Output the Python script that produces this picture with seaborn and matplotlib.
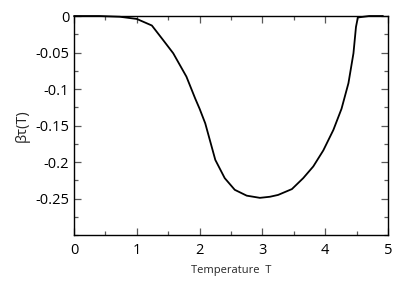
import numpy as np
import pandas as pd
import matplotlib
matplotlib.use("Agg")
import matplotlib.pyplot as plt
from matplotlib.ticker import MultipleLocator
import seaborn as sns

# values
temperature = [0.0, 0.4, 0.73, 1.0, 1.24, 1.42, 1.58, 1.79, 1.93, 2.0, 2.09, 2.25,
               2.40, 2.56, 2.75, 2.96, 3.12, 3.25, 3.47, 3.65, 3.81, 3.97, 4.13,
               4.26, 4.37, 4.45, 4.49, 4.52, 4.7, 4.92]
beta_tau = [0.0, 0.0, -0.001, -0.004, -0.013, -0.033, -0.051, -0.083, -0.113, -0.127,
            -0.147, -0.197, -0.222, -0.238, -0.246, -0.249, -0.2475, -0.245, -0.237,
            -0.222, -0.206, -0.184, -0.156, -0.127, -0.092, -0.051, -0.015, -0.002,
            0.0, 0.0]

x_ticks = [0, 1, 2, 3, 4, 5]
y_ticks = [0, -0.05, -0.1, -0.15, -0.2, -0.25]
y_tick_labels = ['0', '-0.05', '-0.1', '-0.15', '-0.2', '-0.25']

sns.set_style('ticks')
plt.rcParams['font.family'] = ['Open Sans', 'DejaVu Sans']

df = pd.DataFrame({'T': temperature, 'beta': beta_tau})

fig = plt.figure(figsize=(4.0, 2.86), dpi=100)
ax = fig.add_axes([0.185, 0.178, 0.785, 0.766])
sns.lineplot(data=df, x='T', y='beta', color='black', linewidth=1.3, ax=ax)
for line in ax.get_lines():
    line.set_clip_on(False)
    line.set_solid_joinstyle('round')

ax.set_xlim(0, 5)
ax.set_ylim(-0.3, 0)
ax.set_xticks(x_ticks)
ax.set_xticklabels([str(t) for t in x_ticks])
ax.set_yticks(y_ticks)
ax.set_yticklabels(y_tick_labels)
ax.xaxis.set_minor_locator(MultipleLocator(0.5))
ax.yaxis.set_minor_locator(MultipleLocator(0.025))
ax.tick_params(which='both', direction='in', top=True, right=True, colors='0.35',
               labelcolor='black', labelsize=10.5, width=0.9)
ax.tick_params(which='major', length=5)
ax.tick_params(which='minor', length=3)
ax.tick_params(axis='x', pad=6)
for s in ax.spines.values():
    s.set_color('black')
    s.set_linewidth(1.0)

ax.set_xlabel('Temperature  T', fontsize=8, labelpad=5)
ax.set_ylabel('βτ(T)', fontsize=10.5)

fig.savefig('out.png', dpi=100)
